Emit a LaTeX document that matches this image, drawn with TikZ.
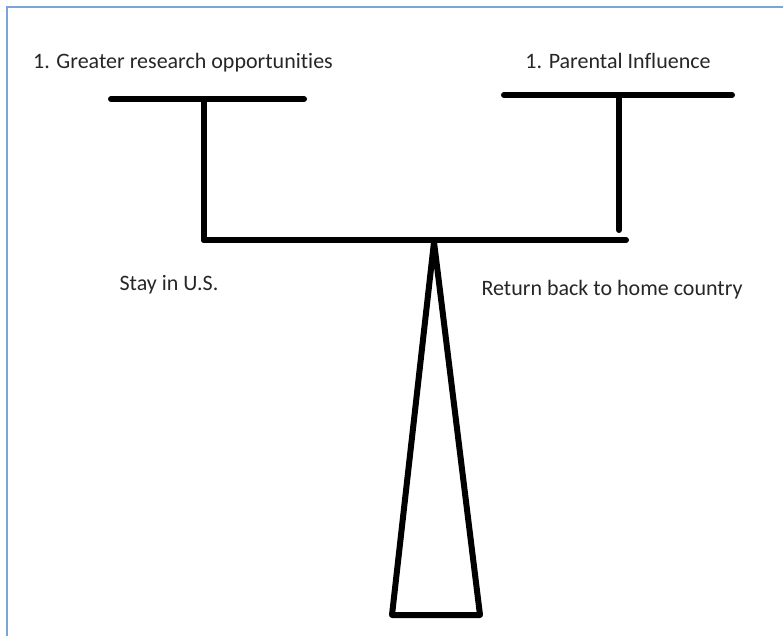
\documentclass[tikz,border=0pt]{standalone}
\usepackage{fontspec}
\setmainfont[Ligatures={NoCommon}]{Carlito}
\definecolor{framebl}{HTML}{7BA5D6}
\begin{document}
\begin{tikzpicture}[x=1pt, y=-1pt, beam/.style={line width=6pt, line cap=round}, lbl/.style={font=\fontsize{22}{26}\selectfont, text=black!85, inner sep=0}]
		\useasboundingbox (0,0) rectangle (783,636);
		\draw[framebl, line width=2pt] (7,636) -- (7,7) -- (783,7);
		% labels
		\node [lbl] (t1) at (183,63) {1. Greater research opportunities};
		\node [lbl] (t2) at (618,61) {1. Parental Influence};
		\node [lbl] (s1) at (169,285) {Stay in U.S.};
		\node [lbl] (s2) at (612,290) {Return back to home country};
		% balance
		\coordinate (bl) at (204,240); \coordinate (br) at (626,240);
		\coordinate (pl) at (204,99); \coordinate (pr) at (619,95);
		\coordinate (apex) at (434,242);
		\coordinate (fl) at (392,615); \coordinate (fr) at (480,615);
		\draw[beam] (bl) -- (br);
		\draw[beam] (111,99) -- (304,99);
		\draw[beam] (504,95) -- (732,95);
		\draw[beam] (pl) -- (bl);
		\draw[beam] (pr) -- (619,230);
		\draw[beam, line join=round] (apex) -- (fl) -- (fr) -- cycle;
		\end{tikzpicture}
\end{document}
